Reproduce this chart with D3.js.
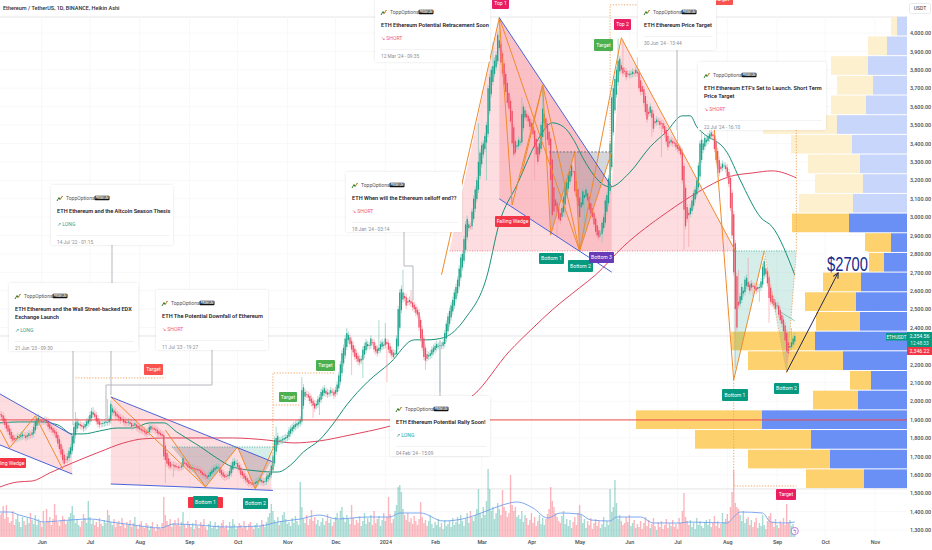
<!DOCTYPE html>
<html lang="en">
<head>
<meta charset="utf-8">
<script src="https://d3js.org/d3.v7.min.js"></script>
<style type="text/css">
    body { margin: 0; background: #fff; overflow: hidden; }
    text { font-family: Roboto, sans-serif; }
    .axis text { fill: #4a4a4a; font-size: 5.4px; font-family: Roboto, sans-serif; font-weight: 500; }
    .axis path, .axis line { display: none; }
</style>
</head>
<body>
<svg id="chart" width="932" height="550"></svg>
<script type="text/javascript">
// daily heikin ashi closes, index 0 = 6 May 2023
var closes = [
1925,1915,1890,1870,1850,1835,1815,1795,1785,1790,1800,1810,1805,1815,1820,1810,1800,1815,1825,1815,
1830,1860,1890,1905,1910,1895,1885,1890,1900,1885,1860,1850,1845,1830,1825,1800,1770,1740,1710,1680,
1660,1680,1700,1730,1750,1810,1860,1885,1890,1880,1865,1860,1850,1875,1890,1900,1925,1945,1940,1915,
1890,1875,1870,1875,1880,1885,1890,1885,1905,1985,1960,1935,1920,1915,1905,1895,1900,1885,1880,1880,
1890,1875,1860,1865,1880,1860,1850,1845,1840,1835,1830,1820,1835,1860,1865,1855,1845,1840,1825,1820,
1815,1810,1700,1680,1660,1650,1640,1650,1655,1640,1645,1635,1640,1650,1690,1660,1650,1640,1635,1630,
1640,1630,1625,1630,1620,1610,1600,1595,1590,1580,1600,1615,1625,1635,1640,1645,1640,1610,1600,1590,
1585,1590,1600,1620,1650,1670,1675,1665,1640,1625,1600,1595,1580,1570,1560,1550,1555,1545,1550,1560,
1565,1570,1580,1560,1555,1565,1590,1600,1610,1650,1700,1790,1800,1810,1780,1790,1795,1800,1805,1815,
1840,1850,1860,1870,1875,1880,1885,1900,2060,2075,2050,2035,2020,2000,1990,1975,1960,1985,2010,2020,
2050,2060,2070,2040,2035,2045,2060,2050,2030,2060,2090,2140,2200,2260,2290,2340,2370,2360,2310,2280,
2265,2240,2230,2215,2210,2230,2280,2300,2320,2310,2300,2340,2320,2280,2270,2260,2290,2310,2320,2300,
2340,2310,2280,2260,2250,2240,2260,2340,2500,2590,2610,2590,2560,2520,2535,2550,2530,2510,2500,2480,
2470,2400,2340,2290,2240,2220,2230,2250,2260,2280,2290,2300,2310,2300,2305,2300,2320,2370,2420,2460,
2490,2520,2550,2590,2620,2660,2720,2780,2800,2880,2960,2990,2960,2950,3030,3100,3150,3200,3300,3350,
3390,3400,3440,3500,3700,3760,3800,3820,3850,3880,3990,3960,3840,3780,3720,3680,3620,3590,3520,3400,
3340,3350,3390,3420,3410,3560,3600,3580,3540,3520,3490,3470,3450,3380,3340,3300,3400,3500,3590,3560,
3480,3420,3390,3200,3010,3030,3060,3030,2990,2980,3050,3110,3170,3190,3230,3250,3280,3250,3140,3110,
3060,3000,3080,3140,3120,3150,3090,3040,3020,3000,2960,2920,2900,2890,2910,2970,3000,3090,3120,3210,
3400,3650,3700,3750,3800,3850,3860,3800,3780,3790,3760,3780,3770,3780,3790,3780,3800,3780,3700,3680,
3680,3620,3570,3530,3560,3600,3540,3480,3510,3530,3520,3500,3510,3480,3450,3410,3380,3400,3420,3400,
3400,3380,3370,3360,3340,3200,3040,2950,2990,3010,3050,3090,3130,3150,3200,3280,3400,3420,3400,3430,
3420,3440,3450,3460,3440,3370,3310,3260,3240,3260,3290,3280,3260,3220,3180,3050,2900,2700,2500,2400,
2520,2570,2620,2600,2660,2670,2620,2600,2640,2620,2610,2600,2620,2620,2650,2730,2760,2690,2640,2560,
2540,2530,2520,2500,2520,2470,2440,2420,2380,2330,2270,2260,2300,2320,2340,2354
];
// long wicks that can be seen, [index, price]
var wickHighs = [[47,1941],[58,1968],[67,2012],[172,1860],[188,2130],[216,2398],[236,2440],[240,2425],[251,2713],
    [256,2604],[298,3510],[307,3950],[311,4070],[325,3650],[338,3710],[358,3350],[385,3970],[388,3960],[397,3870],
    [422,3474],[437,3468],[460,2713],[466,2778],[493,2397]];
var wickLows = [[103,1555],[108,1588],[195,1908],[199,1925],[219,2142],[226,2126],[241,2104],[265,2170],[274,2045],
    [303,3200],[333,3200],[347,2892],[352,3000],[364,2915],[375,2860],[404,3545],[406,3436],[412,3327],[426,2822],
    [429,2838],[458,2180],[469,2570],[473,2540],[479,2425],[490,2208]];
var volumes = [
22,24,31,18,32,20,14,16,26,12,18,22,15,10,20,16,12,19,14,24,17,13,22,12,18,15,10,26,14,28,16,20,12,18,33,22,15,11,17,21,
18,13,16,20,24,31,22,14,18,12,10,16,23,19,14,36,20,13,17,12,15,10,19,13,11,17,14,27,22,15,12,18,10,14,16,11,19,13,9,15,
12,17,10,14,20,11,8,13,16,10,9,14,12,7,11,15,9,6,13,10,8,14,40,22,16,12,18,10,14,17,12,19,11,15,25,13,9,16,12,10,
14,8,17,11,9,15,12,18,10,7,13,16,9,11,15,8,12,10,14,17,9,12,7,15,11,18,13,8,10,14,12,9,16,11,7,13,15,10,8,12,
14,9,11,17,13,10,15,20,24,33,26,17,14,20,12,16,22,25,18,13,15,11,19,14,21,16,12,55,30,18,14,22,12,18,27,16,20,13,17,11,
15,19,12,16,23,14,18,11,15,20,24,17,26,30,20,15,22,18,13,32,19,12,17,14,21,11,16,24,13,19,15,22,12,26,14,18,21,11,17,24,
16,20,40,23,14,18,26,32,50,52,45,28,22,17,24,15,19,13,21,16,12,18,35,20,14,17,11,16,22,13,9,15,12,18,10,14,8,17,11,13,
16,10,19,12,15,20,13,22,16,11,18,24,14,26,20,16,22,28,48,24,19,30,22,36,68,48,26,30,18,24,34,28,22,47,30,26,20,24,62,32,
26,30,20,22,18,26,15,22,19,12,17,24,14,20,11,16,22,13,19,12,18,23,28,50,36,30,24,20,16,14,21,26,13,18,11,17,9,15,20,12,
24,32,22,14,18,9,16,12,19,8,14,18,11,16,9,13,20,10,16,12,48,25,30,57,34,18,22,16,12,14,20,15,22,11,14,17,9,13,10,16,
8,14,20,11,17,9,13,19,11,7,15,10,16,8,12,18,9,14,11,17,10,13,8,19,14,26,44,20,16,12,17,10,14,8,19,12,16,11,9,15,
17,12,18,10,14,21,11,16,9,13,24,15,18,23,16,30,45,67,34,30,28,22,16,26,14,18,20,12,17,10,15,19,9,14,11,22,12,8,16,21,
24,15,10,18,12,9,16,13,19,12,33,14,17,11,13,8
];
var maFast = [[0,1882],[12,1887],[25,1887],[36,1871],[45,1822],[52,1822],[62,1838],[73,1854],[83,1854],[93,1882],[102,1882],
    [110,1833],[125,1751],[135,1691],[145,1642],[160,1621],[169,1615],[173,1615],[181,1653],[189,1724],[199,1789],[207,1871],
    [216,1980],[229,2105],[243,2208],[258,2333],[266,2333],[276,2344],[290,2452],[303,2670],[311,2968],[322,3175],[335,3420],
    [344,3512],[351,3490],[358,3409],[363,3322],[380,3164],[392,3240],[405,3382],[415,3463],[425,3550],[430,3550],[434,3490],
    [437,3463],[453,3349],[461,3202],[474,2996],[481,2947],[495,2686]];
var maSlow = [[0,1534],[11,1561],[20,1566],[31,1610],[45,1664],[62,1724],[77,1773],[89,1795],[103,1800],[125,1800],[145,1800],
    [166,1789],[183,1773],[199,1784],[218,1816],[241,1860],[274,1952],[295,2034],[317,2268],[332,2398],[344,2496],[361,2616],
    [371,2686],[388,2838],[415,3023],[435,3137],[454,3219],[469,3240],[481,3251],[496,3213]];
var maVolume = [[0,25],[6,25],[12,22],[21,18],[27,15],[36,16],[56,18],[69,15],[83,12],[100,9],[108,13],[123,12],[141,10],[162,11],
    [173,15],[187,18],[199,22],[210,18],[229,20],[243,20],[249,24],[262,24],[276,16],[288,18],[303,26],[313,32],[322,35],[332,29],
    [341,19],[349,24],[361,23],[368,17],[380,16],[384,20],[399,20],[407,14],[424,14],[428,15],[453,14],[457,20],[461,25],[475,24],
    [480,15],[488,14],[495,15]];
// volume profile rows, top row first
var profileBuy = [10,20,39,34,41,70,55,47,44,54,58,16,23,46,51,47,92,64,36,49,145,96,77,43];
var profileSell = [6,19,37,36,35,74,61,52,48,54,57,26,15,38,51,44,84,95,21,45,126,116,82,58];
var profileFaded = [1,1,1,1,1,1,1,1,1,1,0,0,0,0,0,0,0,0,0,0,0,0,0,0];
var profileTopPrice = 4088, profileStepPrice = 106.9;

// drawing tools, all [index, price]
var pinkAreas = [
    [[0,2039],[45,1816],[45,1604],[0,1762]],
    [[69,2023],[169,1675],[169,1517],[69,1550]],
    [[280,2816],[311,4083],[381,3164],[387,3974],[458,2816]],
    [[311,4083],[381,3164],[381,2816],[361,2816],[311,3099]]
];
var grayAreas = [
    [[107,1751],[148,1751],[128,1534]],
    [[148,1751],[169,1675],[159,1523]],
    [[342,3354],[358,3354],[343,2903]],
    [[358,3354],[381,3354],[361,2816]]
];
var tealAreas = [
    [[148,1751],[169,1751],[169,1675]],
    [[457,2816],[476,2816],[457,2115]],
    [[476,2816],[496,2816],[490,2153]]
];
var orangeLines = [
    [[0,1844],[6,1746],[22,1920],[39,1632]],
    [[69,2023],[128,1534],[148,1751],[159,1523],[171,1762]],
    [[103,1843],[128,1534]],
    [[275,2686],[311,4083],[319,3066],[338,3718],[343,2903],[358,3354],[361,2816],[381,3354]],
    [[311,4083],[361,2816],[387,3974],[458,2816]],
    [[325,3240],[338,3718],[361,2816]],
    [[445,3474],[457,2115],[476,2816]]
];
var blueLines = [
    [[0,2039],[45,1816]], [[0,1762],[45,1604]],
    [[69,2023],[170,1670]], [[69,1550],[170,1515]],
    [[311,4083],[381,3164]], [[311,3099],[381,2701]]
];
var orangeDotted = [
    [[47,2126],[103,2126]],
    [[170,1626],[170,2153],[209,2153]],
    [[170,1979],[187,1979]],
    [[380,3164],[380,4153],[397,4153]],
    [[457,2115],[457,1539],[496,1539]],
    [[496,3474],[496,2816],[490,2153],[476,2816]]
];
var pinkDotted = [[[280,2816],[458,2816]]];
var tealDotted = [[[107,1751],[171,1751]], [[457,2816],[496,2816]]];
var darkDashed = [[[342,3354],[381,3354]]];
var tealThin = [[[486,2485],[495,2436]]];
var redLevel = 1898;
var paneLevels = [2354, 1523];
var arrowLine = [[490,2159],[522,2697]];
var priceTicks = [1300,1400,1500,1600,1700,1800,1900,2000,2100,2200,2400,2500,2600,2700,2800,2900,3000,3100,3200,3300,3400,3500,3600,3700,3800,3900,4000];

var width = 932, height = 550;
var lastBarScale = 545, plotRight = 907;
var svg = d3.select("#chart");

var xBar = d3.scaleLinear().domain([0, lastBarScale]).range([0, 875]);
var xTime = d3.scaleTime().domain([new Date(2023, 4, 6), new Date(2024, 10, 1)]).range([0, 875]);
var y = d3.scaleLinear().domain([1300, 4000]).range([530, 33]);
var yVol = d3.scaleLinear().domain([0, 100]).range([537, 437]);
// profile widths grow leftwards from the price axis
var xProfile = d3.scaleLinear().domain([0, 300]).range([plotRight, plotRight - 300]);

var line = d3.line().x(function(d) { return xBar(d[0]); }).y(function(d) { return y(d[1]); });
var smooth = d3.line().x(function(d) { return xBar(d[0]); }).y(function(d) { return y(d[1]); }).curve(d3.curveMonotoneX);

// grid
var grid = svg.append("g");
priceTicks.forEach(function(p) {
    grid.append("line").attr("x1", 0).attr("x2", plotRight).attr("y1", y(p)).attr("y2", y(p)).attr("stroke", "#f8f8f9");
});
xTime.ticks(d3.timeMonth.every(1)).forEach(function(t) {
    grid.append("line").attr("x1", xTime(t)).attr("x2", xTime(t)).attr("y1", 17).attr("y2", 537).attr("stroke", "#f8f8f9");
});
paneLevels.forEach(function(p) {
    grid.append("line").attr("x1", 0).attr("x2", plotRight).attr("y1", y(p)).attr("y2", y(p)).attr("stroke", "#e4e4e6");
});

// volume profile
var rowBands = profileBuy.map(function(d, i) { return i; });
var profile = svg.append("g");
function rowTop(i) { return y(profileTopPrice - i * profileStepPrice); }
function rowHeight(i) { return rowTop(i + 1) - rowTop(i) - 1; }
profile.selectAll("rect.buy").data(rowBands).join("rect").attr("class", "buy")
    .attr("x", function(i) { return xProfile(profileBuy[i]); })
    .attr("width", function(i) { return plotRight - xProfile(profileBuy[i]); })
    .attr("y", rowTop).attr("height", rowHeight)
    .attr("fill", function(i) { return profileFaded[i] ? "#c9d6fb" : "#6a8ff5"; });
profile.selectAll("rect.sell").data(rowBands).join("rect").attr("class", "sell")
    .attr("x", function(i) { return xProfile(profileBuy[i] + profileSell[i]); })
    .attr("width", function(i) { return xProfile(profileBuy[i]) - xProfile(profileBuy[i] + profileSell[i]); })
    .attr("y", rowTop).attr("height", rowHeight)
    .attr("fill", function(i) { return profileFaded[i] ? "#fdf0cf" : "#fdd26e"; });

// filled drawing areas
function areas(list, color, op) {
    svg.append("g").selectAll("path").data(list).join("path")
        .attr("d", function(d) { return line(d) + "Z"; })
        .attr("fill", color).attr("fill-opacity", op);
}
areas(pinkAreas, "#f23645", 0.17);
areas(grayAreas, "#787b86", 0.3);
areas(tealAreas, "#089981", 0.17);

// candles, open is the heikin ashi average of the bar before
var opens = [1930];
closes.forEach(function(c, i) { if (i > 0) opens[i] = (opens[i - 1] + closes[i - 1]) / 2; });
var bars = closes.map(function(c, i) { return { i: i, open: opens[i], close: c, up: c >= opens[i], vol: volumes[i] }; });
wickHighs.forEach(function(w) { bars[w[0]].high = w[1]; });
wickLows.forEach(function(w) { bars[w[0]].low = w[1]; });

// volume
svg.append("g").selectAll("rect").data(bars).join("rect")
    .attr("x", function(d) { return xBar(d.i) - 0.7; })
    .attr("width", 1.4)
    .attr("y", function(d) { return yVol(d.vol); })
    .attr("height", function(d) { return yVol(0) - yVol(d.vol); })
    .attr("fill", function(d) { return d.up ? "#089981" : "#f23645"; })
    .attr("fill-opacity", 0.36);
svg.append("path").datum(maVolume)
    .attr("d", d3.line().x(function(d) { return xBar(d[0]); }).y(function(d) { return yVol(d[1]); }).curve(d3.curveMonotoneX))
    .attr("fill", "none").attr("stroke", "#6f9ff0").attr("stroke-width", 0.9);

// moving averages below the candles
svg.append("path").datum(maSlow).attr("d", smooth).attr("fill", "none").attr("stroke", "#e0435c").attr("stroke-width", 1);
svg.append("path").datum(maFast).attr("d", smooth).attr("fill", "none").attr("stroke", "#199078").attr("stroke-width", 1);

var candles = svg.append("g");
candles.selectAll("line").data(bars).join("line")
    .attr("x1", function(d) { return xBar(d.i); })
    .attr("x2", function(d) { return xBar(d.i); })
    .attr("y1", function(d) { return y(d.high || Math.max(d.open, d.close) + 18); })
    .attr("y2", function(d) { return y(d.low || Math.min(d.open, d.close) - 18); })
    .attr("stroke", function(d) { return d.up ? "#7cc4b8" : "#f59aa6"; })
    .attr("stroke-width", 0.8).attr("stroke-opacity", 0.8);
candles.selectAll("rect").data(bars).join("rect")
    .attr("x", function(d) { return xBar(d.i) - 0.65; })
    .attr("width", 1.3)
    .attr("y", function(d) { return y(Math.max(d.open, d.close)); })
    .attr("height", function(d) { return Math.max(0.8, Math.abs(y(d.open) - y(d.close))); })
    .attr("fill", function(d) { return d.up ? "#1fa48c" : "#ef5068"; });

// drawn lines
function lines(list, color, w, dash) {
    svg.append("g").selectAll("path").data(list).join("path")
        .attr("d", line).attr("fill", "none").attr("stroke", color).attr("stroke-width", w)
        .attr("stroke-dasharray", dash || null);
}
lines(orangeLines, "#f08a2c", 1);
lines(blueLines, "#4a63d8", 1);
lines(orangeDotted, "#f5a45c", 1, "1.2 1.6");
lines(pinkDotted, "#f0708a", 0.8, "1 1.5");
lines(tealDotted, "#2fa78f", 0.9, "1 1.5");
lines(darkDashed, "#55586a", 0.8, "2 1.5");
lines(tealThin, "#5fb5a5", 0.7);
svg.append("line").attr("x1", 0).attr("x2", plotRight).attr("y1", y(redLevel)).attr("y2", y(redLevel))
    .attr("stroke", "#ee4a4a").attr("stroke-width", 1);

// arrow to the target
svg.append("defs").append("marker").attr("id", "head").attr("viewBox", "0 0 8 8").attr("refX", 7).attr("refY", 4)
    .attr("markerWidth", 7).attr("markerHeight", 7).attr("orient", "auto")
    .append("path").attr("d", "M1,1L7,4L1,7").attr("fill", "none").attr("stroke", "#20254f").attr("stroke-width", 1.2);
svg.append("path").datum(arrowLine).attr("d", line).attr("fill", "none").attr("stroke", "#20254f")
    .attr("stroke-width", 1).attr("marker-end", "url(#head)");
svg.append("rect").attr("x", 827).attr("y", 251).attr("width", 41).attr("height", 21).attr("fill", "#fff");
svg.append("text").attr("x", 827).attr("y", 271).text("$2700")
    .attr("fill", "#1a2a8a").style("font-family", "'Liberation Sans Narrow', 'Liberation Sans'").style("font-size", "21px")
    .attr("textLength", 41).attr("lengthAdjust", "spacingAndGlyphs");

// card connectors
var connectors = [
    [[112,245],[112,283]], [[73,351],[73,425]], [[111,283],[111,395]],
    [[212,350],[212,385],[106,385],[106,420]],
    [[404,232],[404,266],[413,266],[413,300]],
    [[440,340],[440,396]], [[677,50],[677,130]]
];
var pxLine = d3.line();
svg.append("g").selectAll("path").data(connectors).join("path").attr("d", pxLine)
    .attr("fill", "none").attr("stroke", "#b5b7bf").attr("stroke-width", 1);

// labels
var labels = [
    { t: "Falling Wedge", x: -9, y: 458, w: 35, h: 10, c: "#f23645" },
    { t: "Target", x: 144, y: 364, w: 19, h: 11, c: "#f9524f" },
    { t: "", x: 188, y: 497, w: 35, h: 11, c: "#f23645" },
    { t: "Bottom 1", x: 193, y: 496, w: 25, h: 12, c: "#089981" },
    { t: "Bottom 2", x: 243, y: 498, w: 25, h: 11, c: "#089981" },
    { t: "Target", x: 279, y: 392, w: 18, h: 10, c: "#4caf50" },
    { t: "Target", x: 316, y: 360, w: 19, h: 11, c: "#4caf50" },
    { t: "Top 1", x: 492, y: -3, w: 17, h: 12, c: "#e91e63" },
    { t: "Top 2", x: 614, y: 19, w: 17, h: 11, c: "#e91e63" },
    { t: "Target", x: 594, y: 39, w: 19, h: 12, c: "#4caf50" },
    { t: "Falling Wedge", x: 495, y: 216, w: 35, h: 11, c: "#f23645" },
    { t: "Bottom 1", x: 539, y: 253, w: 25, h: 11, c: "#089981" },
    { t: "Bottom 2", x: 568, y: 260, w: 25, h: 12, c: "#089981" },
    { t: "Bottom 3", x: 589, y: 252, w: 25, h: 11, c: "#673ab7" },
    { t: "Target", x: 711, y: -6, w: 22, h: 11, c: "#f9524f" },
    { t: "Bottom 1", x: 722, y: 389, w: 26, h: 12, c: "#089981" },
    { t: "Bottom 2", x: 774, y: 383, w: 25, h: 11, c: "#089981" },
    { t: "Target", x: 776, y: 489, w: 20, h: 11, c: "#e91e63" }
];
var lab = svg.append("g").selectAll("g").data(labels).join("g");
lab.append("rect").attr("x", function(d) { return d.x; }).attr("y", function(d) { return d.y; })
    .attr("width", function(d) { return d.w; }).attr("height", function(d) { return d.h; })
    .attr("rx", 1).attr("fill", function(d) { return d.c; });
lab.filter(function(d) { return d.t !== ""; }).append("text")
    .attr("x", function(d) { return d.x + d.w / 2; }).attr("y", function(d) { return d.y + d.h / 2 + 1.8; })
    .attr("text-anchor", "middle").attr("fill", "#fff").style("font-size", "5.1px").text(function(d) { return d.t; });

// idea cards
var cards = [
    { x: 375, y: -1, w: 115, h: 63, title: ["ETH Ethereum Potential Retracement Soon"], side: "SHORT", date: "12 Mar '24 - 09:35" },
    { x: 51, y: 185, w: 122, h: 60, title: ["ETH Ethereum and the Altcoin Season Thesis"], side: "LONG", date: "14 Jul '22 - 01:15" },
    { x: 346, y: 172, w: 116, h: 60, title: ["ETH When will the Ethereum selloff end??"], side: "SHORT", date: "18 Jan '24 - 03:14" },
    { x: 9, y: 283, w: 129, h: 68, title: ["ETH Ethereum and the Wall Street-backed EDX", "Exchange Launch"], side: "LONG", date: "21 Jun '23 - 09:30" },
    { x: 156, y: 290, w: 112, h: 60, title: ["ETH The Potential Downfall of Ethereum"], side: "SHORT", date: "11 Jul '23 - 19:27" },
    { x: 390, y: 396, w: 100, h: 60, title: ["ETH Ethereum Potential Rally Soon!"], side: "LONG", date: "04 Feb '24 - 15:09" },
    { x: 638, y: -1, w: 78, h: 51, title: ["ETH Ethereum Price Target"], side: null, date: "30 Jun '24 - 13:44" },
    { x: 698, y: 62, w: 128, h: 68, title: ["ETH Ethereum ETF's Set to Launch. Short Term", "Price Target"], side: "SHORT", date: "22 Jul '24 - 16:10" }
];
var defs = svg.select("defs");
var shadow = defs.append("filter").attr("id", "cardShadow").attr("x", "-10%").attr("y", "-10%").attr("width", "120%").attr("height", "120%");
shadow.append("feDropShadow").attr("dx", 0).attr("dy", 0).attr("stdDeviation", 1.2).attr("flood-color", "#000").attr("flood-opacity", 0.13);

cards.forEach(function(c) {
    var g = svg.append("g").attr("transform", "translate(" + c.x + "," + c.y + ")");
    var left = 6;
    g.append("rect").attr("width", c.w).attr("height", c.h).attr("rx", 1.5).attr("fill", "#fff").attr("filter", "url(#cardShadow)");
    // logo
    g.append("path").attr("d", "M" + left + ",16L" + (left + 2) + ",12.5L" + (left + 3) + ",14.5L" + (left + 5.5) + ",11")
        .attr("fill", "none").attr("stroke", "#2e7d32").attr("stroke-width", 1);
    g.append("path").attr("d", "M" + (left + 3) + ",14.5L" + (left + 5.5) + ",11").attr("stroke", "#f08a2c").attr("stroke-width", 1);
    g.append("text").attr("x", left + 9).attr("y", 15).attr("fill", "#555").style("font-size", "5px").text("ToppOptions");
    g.append("rect").attr("x", left + 37.5).attr("y", 10.7).attr("width", 15).attr("height", 4.6).attr("rx", 1).attr("fill", "#111");
    g.append("text").attr("x", left + 45).attr("y", 14.2).attr("text-anchor", "middle").attr("fill", "#fff")
        .style("font-size", "2.9px").style("font-weight", 700).text("PREMIUM");
    var ty = 27.5;
    c.title.forEach(function(t, i) {
        g.append("text").attr("x", left).attr("y", ty + i * 8).attr("fill", "#1f2128")
            .style("font-size", "5.6px").style("font-weight", 600).text(t);
    });
    var after = ty + (c.title.length - 1) * 8;
    if (c.side) {
        var col = c.side === "LONG" ? "#26a69a" : "#f0607a";
        g.append("text").attr("x", left).attr("y", after + 13).attr("fill", col).style("font-size", "5.1px")
            .text((c.side === "LONG" ? "\u2197 " : "\u2198 ") + c.side);
        after += 13;
    }
    g.append("line").attr("x1", left).attr("x2", c.w - 4).attr("y1", after + 10).attr("y2", after + 10).attr("stroke", "#eeeef0").attr("stroke-width", 0.7);
    g.append("text").attr("x", left).attr("y", after + 18).attr("fill", "#8b8d95").style("font-size", "4.8px").text(c.date);
});

// header
svg.append("rect").attr("width", 370).attr("height", 16).attr("fill", "#fff");
svg.append("text").attr("x", 3).attr("y", 10).attr("fill", "#2a2e39").style("font-size", "5.5px").style("font-weight", 500)
    .text("Ethereum / TetherUS, 1D, BINANCE, Heikin Ashi");
svg.insert("line", "g").attr("x1", 0).attr("x2", width).attr("y1", 17).attr("y2", 17).attr("stroke", "#e6e6e8");

// axes
svg.append("rect").attr("x", plotRight).attr("y", 14).attr("width", width - plotRight).attr("height", 530).attr("fill", "#fff");
svg.append("g").attr("class", "axis").attr("transform", "translate(" + (plotRight + 3) + ",0)")
    .call(d3.axisRight(y).tickValues(priceTicks).tickFormat(d3.format(",.2f")).tickSize(0).tickPadding(0));
svg.append("g").attr("class", "axis").attr("transform", "translate(0,537)")
    .call(d3.axisBottom(xTime).ticks(d3.timeMonth.every(1)).tickSize(0).tickPadding(3)
        .tickFormat(function(t) { return t.getMonth() === 0 ? d3.timeFormat("%Y")(t) : d3.timeFormat("%b")(t); }));

// USDT box and last price tags
svg.append("rect").attr("x", 909.5).attr("y", 3.5).attr("width", 21).attr("height", 10).attr("rx", 1.5).attr("fill", "#fff").attr("stroke", "#e0e3eb").attr("stroke-width", 0.7);
svg.append("text").attr("x", 920).attr("y", 10.3).attr("text-anchor", "middle").attr("fill", "#333").style("font-size", "5px").text("USDT");
svg.append("rect").attr("x", 886).attr("y", 333).attr("width", 21).attr("height", 7.5).attr("fill", "#089981");
svg.append("text").attr("x", 896.5).attr("y", 338.8).attr("text-anchor", "middle").attr("fill", "#fff").style("font-size", "4.6px").text("ETHUSDT");
svg.append("rect").attr("x", 907).attr("y", 332).attr("width", 25).attr("height", 15).attr("fill", "#089981");
svg.append("text").attr("x", 919.5).attr("y", 338).attr("text-anchor", "middle").attr("fill", "#fff").style("font-size", "5.2px").text("2,354.56");
svg.append("text").attr("x", 919.5).attr("y", 345).attr("text-anchor", "middle").attr("fill", "#d8f2ec").style("font-size", "4.8px").text("12:48:33");
svg.append("rect").attr("x", 907).attr("y", 347).attr("width", 25).attr("height", 8).attr("fill", "#f23645");
svg.append("text").attr("x", 919.5).attr("y", 353).attr("text-anchor", "middle").attr("fill", "#fff").style("font-size", "5.2px").text("2,346.22");

// dividend style marker at the last bar
svg.append("circle").attr("cx", xBar(495)).attr("cy", 531).attr("r", 3.6).attr("fill", "#fff").attr("stroke", "#b65ad8").attr("stroke-width", 0.8);
svg.append("text").attr("x", xBar(495)).attr("y", 533).attr("text-anchor", "middle").attr("fill", "#9a3fc4").style("font-size", "5.5px").text("\u03df");
</script>
</body>
</html>
